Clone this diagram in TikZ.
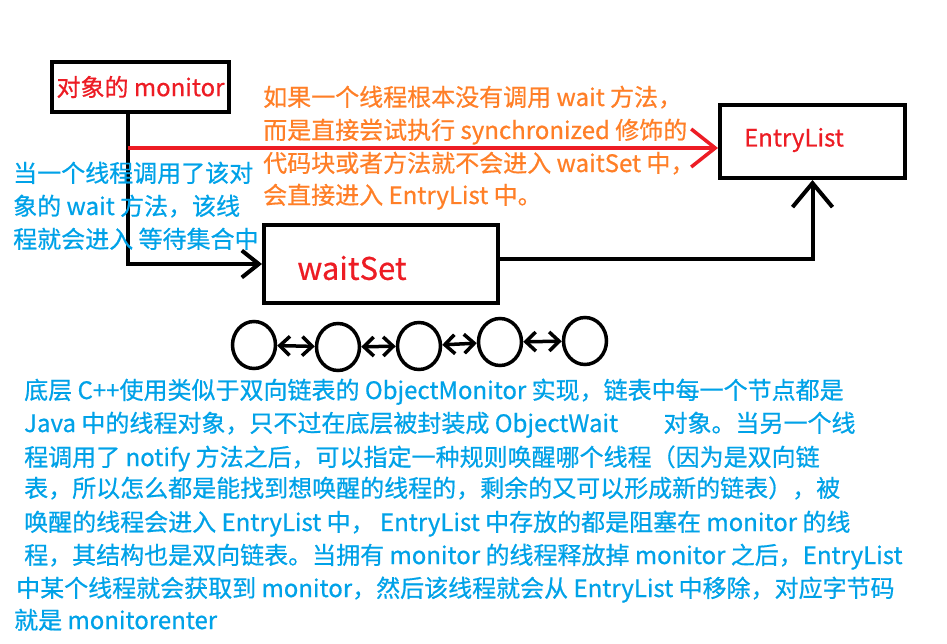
\documentclass[tikz,border=0pt]{standalone}
\usepackage{fontspec}
\setmainfont{Noto Sans CJK SC}[FakeBold=0.6]
\usetikzlibrary{arrows.meta,shapes.geometric}
\definecolor{pblue}{HTML}{00A2E8}
\definecolor{porange}{HTML}{FF7F27}
\definecolor{pred}{HTML}{ED1C24}
\begin{document}
\begin{tikzpicture}[x=1pt,y=-1pt,
  box/.style={draw=black,line width=4pt,rectangle,inner sep=0pt},
  redlabel/.style={text=pred,inner sep=0pt,font=\fontsize{24}{28}\selectfont},
  orangeline/.style={text=porange,inner sep=0pt,anchor=base west,font=\fontsize{24}{28}\selectfont},
  blueline/.style={text=pblue,inner sep=0pt,anchor=base west,font=\fontsize{24}{28}\selectfont},
  conn/.style={draw=black,line width=4pt},
  redconn/.style={draw=pred,line width=3.5pt},
  ring/.style={draw=black,line width=3.5pt,ellipse,minimum width=43pt,minimum height=47pt,inner sep=0pt},
  dlink/.style={draw=black,line width=3.5pt,{Straight Barb[length=10pt,width=19pt]}-{Straight Barb[length=10pt,width=19pt]}}
]
\useasboundingbox[fill=white] (0,0) rectangle (947,644);

% boxes
\node[box,minimum width=177pt,minimum height=50pt,redlabel,draw=black] (mon) at (140.5,87) {对象的 monitor};
\node[box,minimum width=234pt,minimum height=78pt] (ws) at (381,264) {};
\node[redlabel,font=\fontsize{31}{34}\selectfont] (wst) at (352,268) {waitSet};
\node[box,minimum width=185pt,minimum height=73pt] (el) at (812.5,141.5) {};
\node[redlabel] (elt) at (794,140) {EntryList};

% connectors
\draw[conn,-{Straight Barb[length=17pt,width=27pt]}] ([xshift=-12.5pt]mon.south) |- (ws.west);
\coordinate (r0) at (128,148);
\draw[redconn,-{Straight Barb[length=24pt,width=38pt]}] (r0) -- (r0 -| el.west);
\draw[conn,-{Straight Barb[length=24pt,width=40pt]}] ([yshift=5pt]ws.east) -| (el.south);

% linked list circles
\node[ring] (c1) at (254,345) {};
\node[ring] (c2) at (338,347) {};
\node[ring] (c3) at (419,346) {};
\node[ring] (c4) at (500,342) {};
\node[ring] (c5) at (585,341) {};
\draw[dlink] (c1) -- (c2);
\draw[dlink] (c2) -- (c3);
\draw[dlink] (c3) -- (c4);
\draw[dlink] (c4) -- (c5);

% orange text
\node[orangeline] (o1) at (263,106) {如果一个线程根本没有调用 wait 方法，};
\node[orangeline] (o2) at (263,139) {而是直接尝试执行 synchronized 修饰的};
\node[orangeline] (o3) at (263,172) {代码块或者方法就不会进入 waitSet 中，};
\node[orangeline] (o4) at (263,204) {会直接进入 EntryList 中。};

% left blue text
\node[blueline] (l1) at (13,182) {当一个线程调用了该对};
\node[blueline] (l2) at (13,215) {象的 wait 方法，该线};
\node[blueline] (l3) at (13,248) {程就会进入 等待集合中};

% bottom blue text
\node[blueline] (b1) at (24,399) {底层 C++使用类似于双向链表的 ObjectMonitor 实现，链表中每一个节点都是};
\node[blueline] (b2) at (24,432) {Java 中的线程对象，只不过在底层被封装成 ObjectWait\hspace{40pt} 对象。当另一个线};
\node[blueline] (b3) at (24,466) {程调用了 notify 方法之后，可以指定一种规则唤醒哪个线程（因为是双向链};
\node[blueline] (b4) at (24,497) {表，所以怎么都是能找到想唤醒的线程的，剩余的又可以形成新的链表），被};
\node[blueline] (b5) at (24,531) {唤醒的线程会进入 EntryList 中， EntryList 中存放的都是阻塞在 monitor 的线};
\node[blueline] (b6) at (24,564) {程，其结构也是双向链表。当拥有 monitor 的线程释放掉 monitor 之后，EntryList};
\node[blueline] (b7) at (16,597) {中某个线程就会获取到 monitor，然后该线程就会从 EntryList 中移除，对应字节码};
\node[blueline] (b8) at (14,629) {就是 monitorenter};
\end{tikzpicture}
\end{document}
